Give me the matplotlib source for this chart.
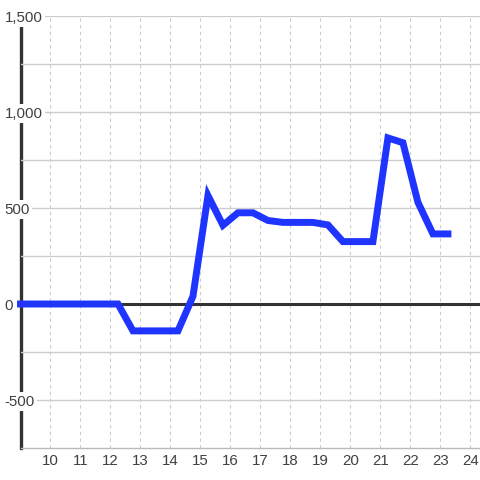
import matplotlib
matplotlib.use("Agg")
import matplotlib.pyplot as plt

plt.rcParams["font.family"] = ["Liberation Sans", "DejaVu Sans"]

# values
x = [9.0, 9.75, 10.25, 10.75, 11.25, 11.75, 12.25, 12.75, 13.25, 13.75, 14.25,
     14.75, 15.25, 15.75, 16.25, 16.75, 17.25, 17.75, 18.25, 18.75, 19.25,
     19.75, 20.25, 20.75, 21.25, 21.75, 22.25, 22.75, 23.25]
y = [0, 0, 0, 0, 0, 0, 0, -140, -140, -140, -140,
     40, 565, 410, 475, 475, 435, 425, 425, 425, 412,
     325, 325, 325, 865, 840, 530, 365, 365]

x_ticks = list(range(10, 25))
y_ticks = [-500, 0, 500, 1000, 1500]
y_labels = ["-500", "0", "500", "1,000", "1,500"]
y_minor = [-250, 250, 750, 1250]

fig = plt.figure(figsize=(4.8, 4.8), dpi=100)
ax = fig.add_axes([20.5 / 480, 32 / 480, 1 - 20.5 / 480, 432 / 480])

ax.set_xlim(9.0, 24.32)
ax.set_ylim(-750, 1500)

ax.set_yticks(y_ticks)
ax.set_yticklabels(y_labels, ha="left")
ax.set_yticks(y_minor, minor=True)
ax.set_xticks(x_ticks)

ax.tick_params(axis="y", which="both", length=0, pad=11.5, labelsize=10.8, labelcolor="#404040")
ax.tick_params(axis="x", length=0, pad=4, labelsize=10.8, labelcolor="#404040")
for lab in ax.get_yticklabels():
    lab.set_bbox(dict(facecolor="white", edgecolor="none", pad=1.5))

ax.grid(axis="y", which="both", color="#cccccc", linewidth=1.0)
ax.grid(axis="x", color="#cccccc", linewidth=0.8, linestyle=(0, (3, 3)))

for side in ["top", "right"]:
    ax.spines[side].set_visible(False)
ax.spines["bottom"].set_color("#bbbbbb")
ax.spines["bottom"].set_linewidth(1.0)
ax.spines["left"].set_color("#333333")
ax.spines["left"].set_linewidth(2.4)
ax.spines["left"].set_zorder(1.6)
ax.yaxis.set_zorder(1.7)
ax.xaxis.set_zorder(1.0)

ax.axhline(0, color="#333333", linewidth=2.2, zorder=1.8)
ax.plot(x, y, color="#1f35ff", linewidth=5, solid_capstyle="projecting",
        solid_joinstyle="miter", zorder=3, clip_on=False)

fig.savefig("out.png", dpi=100)
